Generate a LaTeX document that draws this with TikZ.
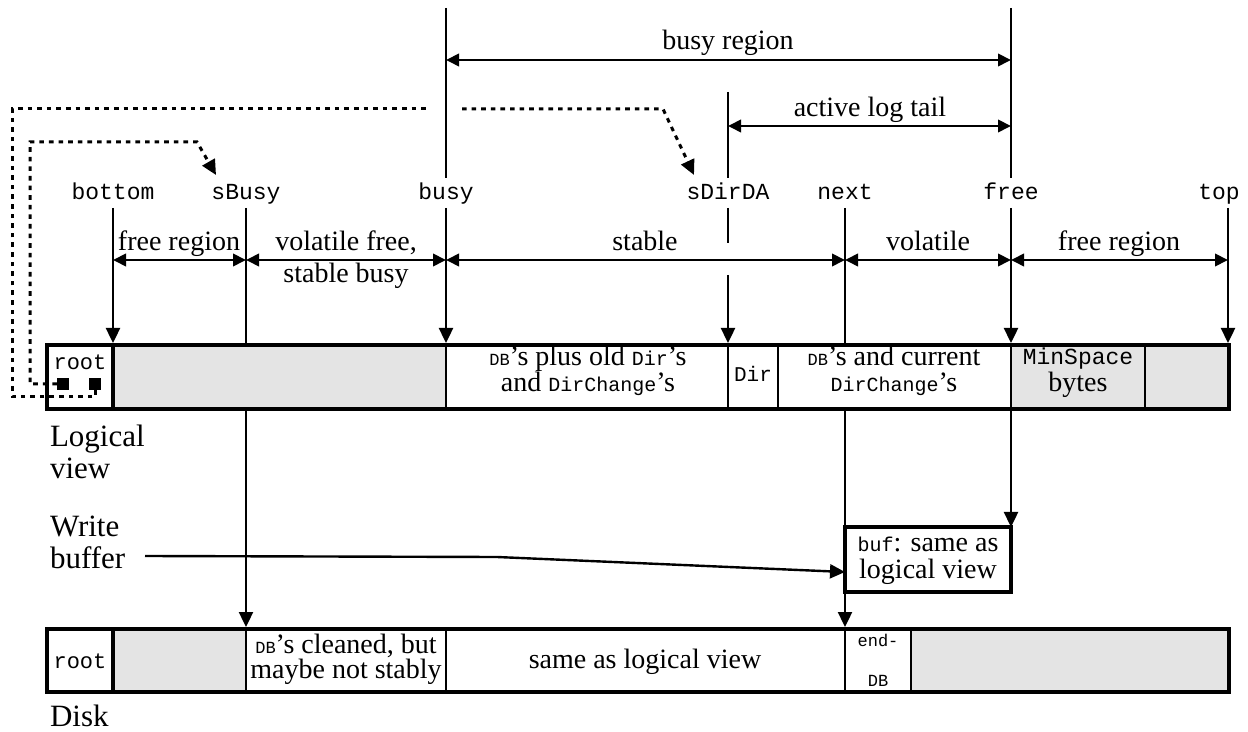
\documentclass[tikz,border=0pt]{standalone}
\usepackage{fontspec}
\setmainfont{Liberation Serif}
\setmonofont{Liberation Mono}
\usetikzlibrary{arrows.meta}
\definecolor{cellgray}{RGB}{228,228,228}
\newcommand{\im}[1]{{\fontsize{10}{11}\selectfont\ttfamily #1}}
\newcommand{\dbm}{{\fontsize{8.5}{9}\selectfont\ttfamily DB}}
\tikzset{
  every node/.style={inner sep=0pt, outer sep=0pt},
  txt/.style={font=\fontsize{14}{15}\selectfont, anchor=base},
  mono/.style={font=\fontsize{11.5}{13}\selectfont\ttfamily, anchor=base},
  side/.style={font=\fontsize{15.5}{17}\selectfont, anchor=base west},
  ln/.style={line width=1.2pt},
  arr/.style={ln, -{Triangle[length=7.5pt,width=7pt]}},
  dim/.style={ln, {Triangle[length=6.5pt,width=6.2pt]}-{Triangle[length=6.5pt,width=6.2pt]}},
  ptrline/.style={line width=1.5pt, dash pattern=on 2.3pt off 2.5pt},
  ptr/.style={ptrline, -{Triangle[length=7.5pt,width=7pt]}},
  bar/.style={line width=2pt},
  div/.style={line width=1.2pt},
  thinbox/.style={line width=2.3pt},
}
\begin{document}
\begin{tikzpicture}[x=0.5pt,y=-0.5pt]
\useasboundingbox (0,0) rectangle (1248,732);

% ---------- logical view bar ----------
\fill[cellgray] (113,345) rectangle (446,409);
\fill[cellgray] (1011,345) rectangle (1229,409);
\foreach \xx in {446,728,778,1011,1145} \draw[div] (\xx,345) -- (\xx,409);
\draw[bar] (113,345) -- (113,409);
\draw[bar] (47,345) rectangle (1229,409);

\node[mono, font=\fontsize{11}{12}\selectfont\ttfamily] (rootL) at (80,370) {root};
\node[fill=black, minimum size=6pt] (sqL) at (63,384) {};
\node[fill=black, minimum size=6pt] (sqR) at (95,384) {};
\node[txt] (c1a) at (588,366) {\dbm’s plus old \im{Dir}’s};
\node[txt] (c1b) at (588,392) {and \im{DirChange}’s};
\node[mono, font=\fontsize{10.5}{11}\selectfont\ttfamily] (cdir) at (753,382) {Dir};
\node[txt] (c2a) at (894,366) {\dbm’s and current};
\node[txt] (c2b) at (894,392) {\im{DirChange}’s};
\node[mono] (cmin) at (1078,365) {MinSpace};
\node[txt] (cbytes) at (1078,392) {bytes};

% ---------- disk bar ----------
\fill[cellgray] (113,629) rectangle (246,692);
\fill[cellgray] (911,629) rectangle (1229,692);
\foreach \xx in {246,446,845,911} \draw[div] (\xx,629) -- (\xx,692);
\draw[bar] (113,629) -- (113,692);
\draw[bar] (47,629) rectangle (1229,692);

\node[mono, font=\fontsize{11}{12}\selectfont\ttfamily] (rootD) at (80,668) {root};
\node[txt] (d1a) at (346,653) {\dbm’s cleaned, but};
\node[txt] (d1b) at (346,678) {maybe not stably};
\node[txt] (d2) at (645,668) {same as logical view};
\node[mono, font=\fontsize{8.5}{9}\selectfont\ttfamily] (d3a) at (878,646) {end-};
\node[mono, font=\fontsize{8.5}{9}\selectfont\ttfamily] (d3b) at (878,686) {DB};

% ---------- write buffer box ----------
\draw[thinbox] (845,527) rectangle (1011,592);
\node[txt] (b1) at (928,552) {\im{buf}: same as};
\node[txt] (b2) at (928,578) {logical view};
\coordinate (bufW) at (845,572);
\coordinate (bufN) at (1011,527);

% ---------- side labels ----------
\node[side] (lv1) at (50,447) {Logical};
\node[side] (lv2) at (50,479) {view};
\node[side] (wb1) at (50,537) {Write};
\node[side] (wb2) at (50,568) {buffer};
\node[side] (dk) at (50,726) {Disk};

% ---------- pointer labels ----------
\node[mono] (lbottom) at (113,200) {bottom};
\node[mono] (lsbusy) at (246,200) {sBusy};
\node[mono] (lbusy) at (446,200) {busy};
\node[mono] (lsdir) at (728,200) {sDirDA};
\node[mono] (lnext) at (845,200) {next};
\node[mono] (lfree) at (1011,200) {free};
\node[mono] (ltop) at (1219,200) {top};

% ---------- vertical lines ----------
\draw[ln] (446,8) -- (446,178);
\draw[ln] (1011,8) -- (1011,178);
\draw[ln] (728,92) -- (728,178);
\draw[arr] (113,208) -- (113,343);
\draw[ln] (246,208) -- (246,343);
\draw[arr] (446,208) -- (446,343);
\draw[ln] (728,208) -- (728,243);
\draw[arr] (728,275) -- (728,343);
\draw[ln] (845,208) -- (845,343);
\draw[arr] (1011,208) -- (1011,343);
\draw[arr] (1228,208) -- (1228,343);

\draw[arr] (246,411) -- (246,627);
\draw[arr] (845,411) -- (845,627);
\draw[arr] (1011,411) -- (bufN);
\draw[arr] (145,556) -- (497,557) -- (bufW);

% ---------- dimension arrows ----------
\draw[dim] (446,60) -- (1011,60);
\node[txt] (tbusy) at (728,50) {busy region};
\draw[dim] (728,126) -- (1011,126);
\node[txt] (tactive) at (870,117) {active log tail};

\draw[dim] (113,260) -- (246,260);
\draw[dim] (246,260) -- (446,260);
\draw[dim] (446,260) -- (845,260);
\draw[dim] (845,260) -- (1011,260);
\draw[dim] (1011,260) -- (1228,260);
\node[txt] (tfree1) at (179,251) {free region};
\node[txt] (tvol1) at (346,251) {volatile free,};
\node[txt] (tvol2) at (346,283) {stable busy};
\node[txt] (tstable) at (645,251) {stable};
\node[txt] (tvol) at (928,251) {volatile};
\node[txt] (tfree2) at (1119,251) {free region};

% ---------- dotted pointers ----------
\draw[ptrline] (sqR.south) -- (95,397) -- (12,397) -- (12,109) -- (430,109);
\draw[ptr] (462,109) -- (663,109) -- (694,175);
\draw[ptr] (sqL.west) -- (30,384) -- (30,142) -- (197,142) -- (216,175);
\end{tikzpicture}
\end{document}
